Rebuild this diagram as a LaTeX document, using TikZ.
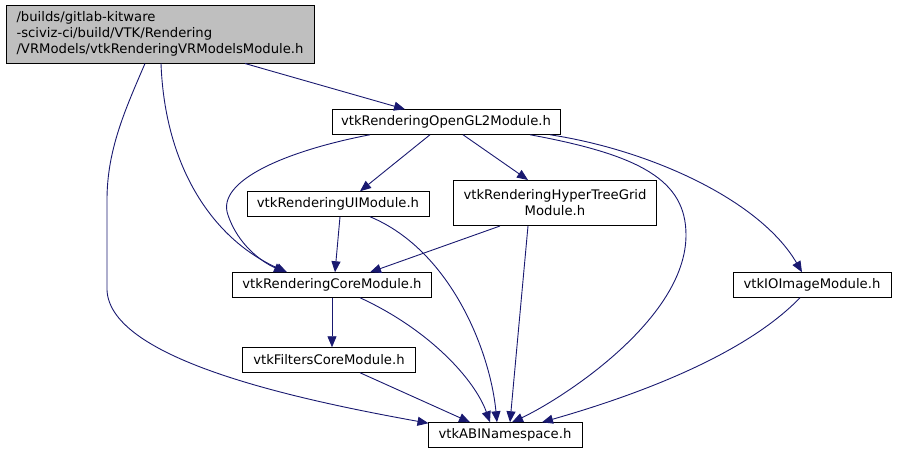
\documentclass[tikz,border=0pt]{standalone}
\usepackage{fontspec}
\setmainfont{DejaVu Sans}
\usepackage{tikz}
\usetikzlibrary{arrows,arrows.meta,positioning,calc}
\definecolor{edgecolor}{RGB}{25,25,112}
\definecolor{rootcolor}{RGB}{191,191,191}

\begin{document}
\begin{tikzpicture}[
    x=1pt, y=-1pt,
    box/.style={rectangle, draw=black, line width=1pt, inner sep=0pt, minimum height=24.5pt, align=center, font=\fontsize{13.2}{16}\selectfont},
    arrow/.style={-{Triangle[length=11pt,width=9pt]}, edgecolor, line width=0.9pt}
]
    \useasboundingbox (0,0) rectangle (897,455);

    % Nodes
    \node[box, fill=rootcolor, align=left, minimum width=308pt, minimum height=58pt] (root) at (160,34) {/builds/gitlab-kitware\\-sciviz-ci/build/VTK/Rendering\\/VRModels/vtkRenderingVRModelsModule.h};
    \node[box, minimum width=228pt] (opengl) at (446,122) {vtkRenderingOpenGL2Module.h};
    \node[box, minimum width=182pt] (ui) at (338,204) {vtkRenderingUIModule.h};
    \node[box, minimum width=203pt, minimum height=45pt] (htg) at (555,203) {vtkRenderingHyperTreeGrid\\Module.h};
    \node[box, minimum width=199pt] (core) at (332,285) {vtkRenderingCoreModule.h};
    \node[box, minimum width=158pt] (ioimage) at (812,285) {vtkIOImageModule.h};
    \node[box, minimum width=173pt] (filters) at (329,360) {vtkFiltersCoreModule.h};
    \node[box, minimum width=154pt] (abi) at (505,435) {vtkABINamespace.h};

    % Arrows from the root header
    \draw[arrow] ([xshift=85pt]root.south) -- ([xshift=-41pt]opengl.north);
    \draw[arrow] ([xshift=1pt]root.south) .. controls (165,170) and (215,240) .. ([xshift=-45pt]core.north);
    \draw[arrow] ([xshift=-15pt]root.south) .. controls (125,110) and (107,150) .. (107,200) -- (107,290)
        .. controls (110,360) and (300,400) .. ([xshift=1pt,yshift=-1pt]abi.north west);

    % Arrows from OpenGL2
    \draw[arrow] ([xshift=-76pt]opengl.south) .. controls (290,150) and (215,180) .. (228,215)
        .. controls (238,245) and (262,262) .. ([xshift=-47pt]core.north);
    \draw[arrow] ([xshift=-16pt]opengl.south) -- ([xshift=22pt]ui.north);
    \draw[arrow] ([xshift=17pt]opengl.south) -- ([xshift=-27pt]htg.north);
    \draw[arrow] ([xshift=84pt]opengl.south) .. controls (640,155) and (686,180) .. (686,235)
        .. controls (686,320) and (560,400) .. ([xshift=7pt]abi.north);
    \draw[arrow] ([xshift=104pt]opengl.south) .. controls (650,150) and (760,200) .. ([xshift=-10pt]ioimage.north);

    % Remaining arrows
    \draw[arrow] ([xshift=2pt]ui.south) -- ([xshift=3pt]core.north);
    \draw[arrow] ([xshift=32pt]ui.south) .. controls (450,250) and (490,350) .. ([xshift=-8pt]abi.north);
    \draw[arrow] ([xshift=-55pt]htg.south) -- ([xshift=38pt]core.north);
    \draw[arrow] ([xshift=-27pt]htg.south) -- ([xshift=5pt]abi.north);
    \draw[arrow] ([xshift=0pt]core.south) -- ([xshift=3pt]filters.north);
    \draw[arrow] ([xshift=28pt]core.south) .. controls (430,330) and (475,380) .. ([xshift=-15pt]abi.north);
    \draw[arrow] ([xshift=31pt]filters.south) -- ([xshift=-35pt]abi.north);
    \draw[arrow] ([xshift=-12pt]ioimage.south) .. controls (740,360) and (620,400) .. ([xshift=37pt]abi.north);
\end{tikzpicture}
\end{document}
